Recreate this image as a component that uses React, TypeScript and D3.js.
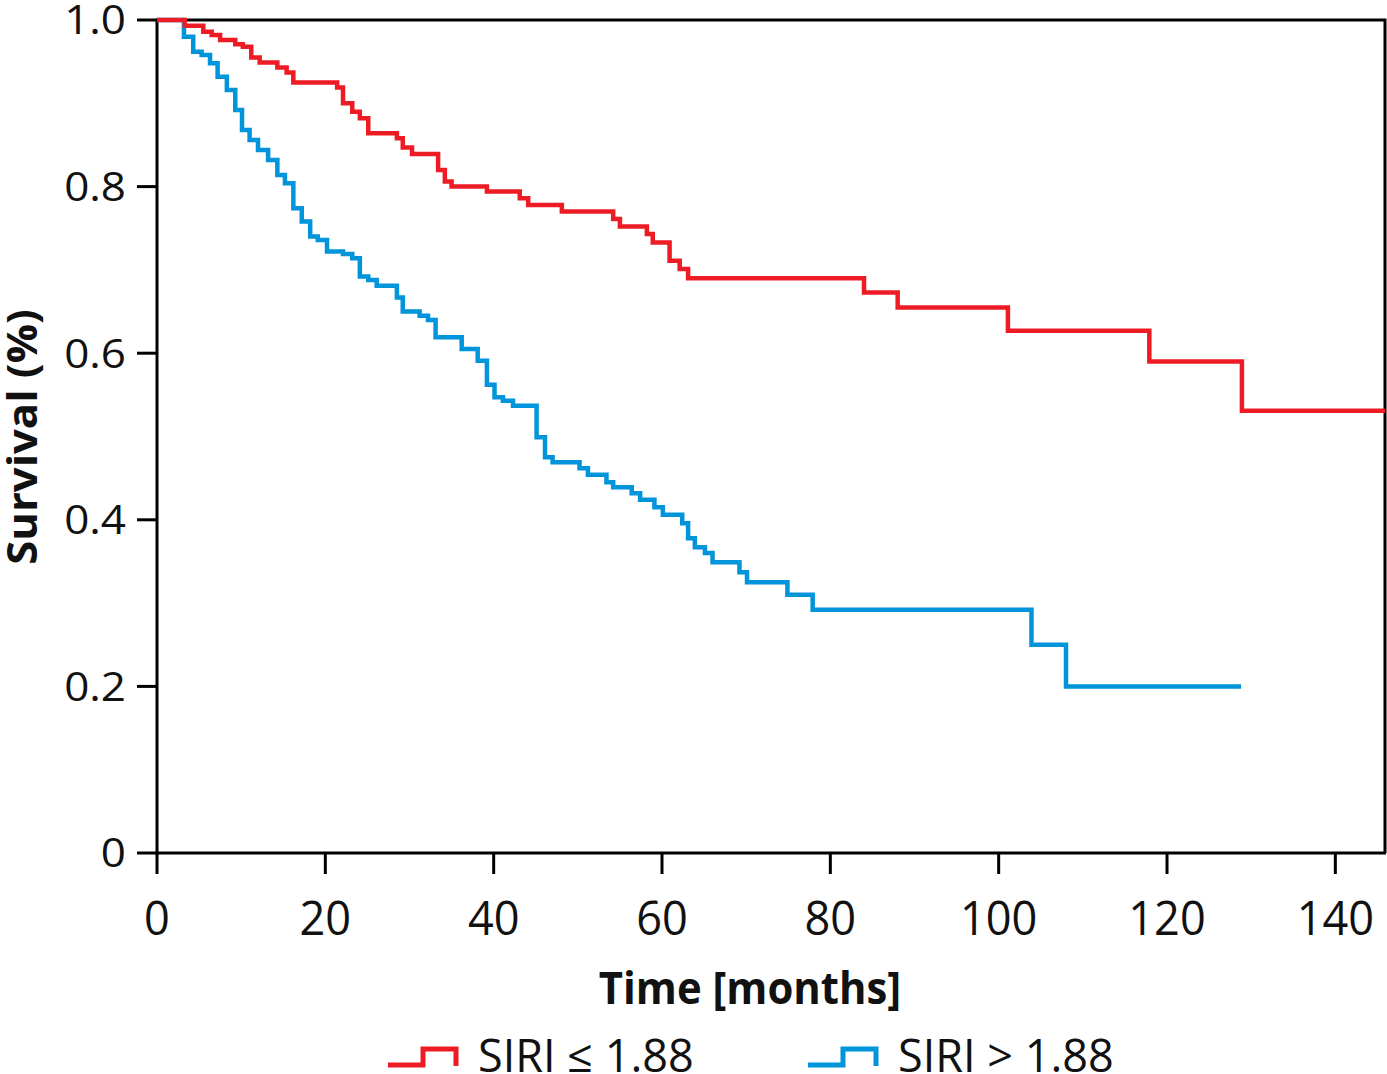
import React from "react";
import * as d3 from "d3";

// Kaplan–Meier steps: [time (months), survival after the event]
const redSteps: [number, number][] = [
  [0, 1.0], [3.3, 0.993], [5.5, 0.986], [6.5, 0.982], [7.5, 0.976], [9.3, 0.971],
  [10.2, 0.968], [11.2, 0.955], [12.2, 0.949], [14.3, 0.943], [15.4, 0.937],
  [16.2, 0.925], [21.4, 0.919], [22.1, 0.9], [23.2, 0.89], [24.1, 0.882],
  [25.1, 0.864], [28.5, 0.858], [29.2, 0.847], [30.3, 0.839], [33.4, 0.82],
  [34.2, 0.806], [35.0, 0.8], [39.2, 0.794], [43.1, 0.786], [44.1, 0.778],
  [48.1, 0.77], [54.2, 0.761], [55.0, 0.752], [58.2, 0.743], [58.9, 0.733],
  [60.9, 0.711], [62.1, 0.701], [63.1, 0.69], [84.0, 0.673], [88.0, 0.655],
  [101.1, 0.627], [117.9, 0.59], [128.9, 0.531], [145.9, 0.531],
];

const blueSteps: [number, number][] = [
  [0, 1.0], [3.2, 0.98], [4.3, 0.962], [5.3, 0.958], [6.3, 0.948], [7.2, 0.932],
  [8.3, 0.916], [9.3, 0.892], [10.1, 0.868], [11.0, 0.856], [12.0, 0.844],
  [13.2, 0.832], [14.3, 0.814], [15.2, 0.804], [16.2, 0.774], [17.2, 0.758],
  [18.2, 0.74], [19.1, 0.736], [20.2, 0.722], [22.1, 0.719], [23.2, 0.714],
  [24.1, 0.692], [25.1, 0.688], [26.1, 0.681], [28.5, 0.667], [29.2, 0.65],
  [31.2, 0.645], [32.2, 0.64], [33.1, 0.619], [36.2, 0.605], [38.1, 0.591],
  [39.2, 0.562], [40.1, 0.547], [41.1, 0.543], [42.3, 0.537], [45.1, 0.499],
  [46.1, 0.475], [47.0, 0.469], [50.2, 0.462], [51.2, 0.454], [53.4, 0.445],
  [54.2, 0.439], [56.4, 0.432], [57.4, 0.424], [59.1, 0.415], [60.1, 0.406],
  [62.4, 0.396], [63.1, 0.378], [63.9, 0.367], [65.1, 0.36], [66.0, 0.349],
  [69.2, 0.337], [70.1, 0.325], [74.9, 0.31], [77.9, 0.292], [103.9, 0.25],
  [108.0, 0.2], [128.8, 0.2],
];

const xTicks = [0, 20, 40, 60, 80, 100, 120, 140];
const yTicks = [0, 0.2, 0.4, 0.6, 0.8, 1.0];
const yTickLabels = ["0", "0.2", "0.4", "0.6", "0.8", "1.0"];
const seriesNames = ["SIRI \u2264 1.88", "SIRI > 1.88"];
const seriesColors = ["#ED1C24", "#0095DA"];

export default function App() {
  const W = 1387, H = 1074;
  const x = d3.scaleLinear().domain([0, 145.9]).range([157, 1385]);
  const y = d3.scaleLinear().domain([0, 1]).range([853, 20]);
  const line = d3
    .line<[number, number]>()
    .x((d) => x(d[0]))
    .y((d) => y(d[1]))
    .curve(d3.curveStepAfter);

  const font = "'Open Sans', 'Noto Sans', sans-serif";
  const legendX = [388, 808];

  return (
    <svg
      width={W}
      height={H}
      style={{ position: "absolute", left: 0, top: 0, background: "#fff" }}
      fontFamily={font}
    >
      {/* frame */}
      <path
        d={`M${x(0)},${y(1)}H${x(145.9)}V${y(0)}`}
        fill="none"
        stroke="#000"
        strokeWidth={3}
      />
      {/* y axis */}
      <line x1={x(0)} x2={x(0)} y1={y(1) - 1.5} y2={y(0) + 1.5} stroke="#000" strokeWidth={3} />
      {yTicks.map((t, i) => (
        <g key={"y" + t}>
          <line x1={137} x2={x(0)} y1={y(t)} y2={y(t)} stroke="#000" strokeWidth={3} />
          <text
            transform={`translate(126,${y(t)}) scale(1.1,1)`}
            dy="0.36em"
            textAnchor="end"
            fontSize={40}
            fill="#111"
          >
            {yTickLabels[i]}
          </text>
        </g>
      ))}
      {/* x axis */}
      <line x1={x(0) - 1.5} x2={1386} y1={y(0)} y2={y(0)} stroke="#000" strokeWidth={3} />
      {xTicks.map((t) => (
        <g key={"x" + t}>
          <line x1={x(t)} x2={x(t)} y1={y(0)} y2={874} stroke="#000" strokeWidth={3} />
          <text
            transform={`translate(${x(t)},935) scale(0.94,1)`}
            textAnchor="middle"
            fontSize={48}
            fill="#111"
          >
            {t}
          </text>
        </g>
      ))}
      {/* axis titles */}
      <text
        transform="translate(750,1004) scale(0.93,1)"
        textAnchor="middle"
        fontSize={45}
        fontWeight="bold"
        fill="#111"
      >
        Time [months]
      </text>
      <text
        transform="translate(37,437) rotate(-90) scale(1.04,1)"
        textAnchor="middle"
        fontSize={42}
        fontWeight="bold"
        fill="#111"
      >
        Survival (%)
      </text>
      {/* curves */}
      <path d={line(blueSteps) || ""} fill="none" stroke={seriesColors[1]} strokeWidth={4.5} />
      <path d={line(redSteps) || ""} fill="none" stroke={seriesColors[0]} strokeWidth={4.5} />
      {/* legend */}
      {seriesNames.map((name, i) => {
        const lx = legendX[i];
        return (
          <g key={name}>
            <path
              d={`M${lx},1065H${lx + 35}V1049H${lx + 68}V1066`}
              fill="none"
              stroke={seriesColors[i]}
              strokeWidth={5}
            />
            <text
              transform={`translate(${lx + 90},1072) scale(1.0,1)`}
              fontSize={45}
              fill="#111"
            >
              {name}
            </text>
          </g>
        );
      })}
    </svg>
  );
}
